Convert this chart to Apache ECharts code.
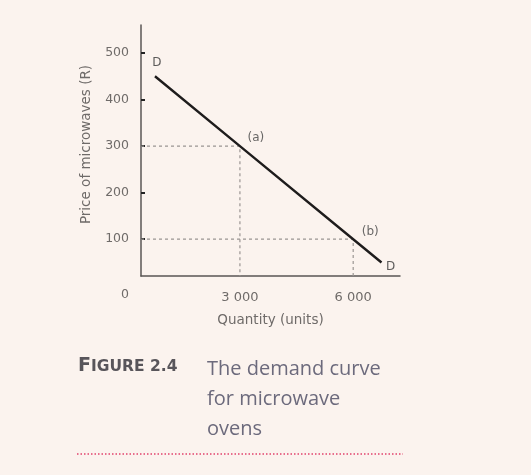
<!DOCTYPE html>
<html>
<head>
<meta charset="utf-8">
<script src="https://cdn.jsdelivr.net/npm/echarts@6/dist/echarts.min.js"></script>
<style>
html,body{margin:0;padding:0;background:#fbf3ee;}
#c{width:531px;height:475px;}
</style>
</head>
<body>
<div id="c"></div>
<script>
// Data
var demandQuantity = [750, 3000, 6000, 6750];
var demandPrice = [450, 300, 100, 50];
var pointQuantity = [3000, 6000];
var pointPrice = [300, 100];
var pointNames = ['(a)', '(b)'];
var xTickValues = [3000, 6000];
var xTickLabels = ['3 000', '6 000'];
var yTickValues = [100, 200, 300, 400, 500];
var xRange = [380, 7240];
var yRange = [21, 560];

var font = '"DejaVu Sans", sans-serif';
var capFont = '"Open Sans", "DejaVu Sans", sans-serif';
var chart = echarts.init(document.getElementById('c'), null, {renderer: 'canvas'});

var demandData = demandQuantity.map(function (q, i) { return [q, demandPrice[i]]; });

var guideSeries = pointQuantity.map(function (q, i) {
  return {
    type: 'line',
    data: [[xRange[0], pointPrice[i]], [q, pointPrice[i]], [q, yRange[0]]],
    symbol: 'none',
    silent: true,
    lineStyle: {color: '#9a9592', width: 1.2, type: [3, 3]},
    z: 1
  };
});

var labelOffsets = [[16, -8], [17, -7]];
var pointLabelData = pointQuantity.map(function (q, i) {
  return {
    value: [q, pointPrice[i]],
    name: pointNames[i],
    label: {offset: labelOffsets[i]}
  };
});

var endLabelData = [
  {value: demandData[0], name: 'D', label: {offset: [2, -13]}},
  {value: demandData[demandData.length - 1], name: 'D', label: {offset: [9, 4]}}
];

chart.setOption({
  backgroundColor: '#fbf3ee',
  animation: false,
  grid: {left: 141, right: 131, top: 25, bottom: 199},
  xAxis: {
    type: 'value',
    min: xRange[0], max: xRange[1],
    name: 'Quantity (units)',
    nameLocation: 'middle',
    nameGap: 37,
    nameTextStyle: {fontFamily: font, fontSize: 13.5, color: '#6f6b69'},
    axisLine: {lineStyle: {color: '#5a5654', width: 1.5}},
    axisTick: {show: false},
    splitLine: {show: false},
    axisLabel: {
      customValues: xTickValues,
      formatter: function (v) { return xTickLabels[xTickValues.indexOf(v)]; },
      fontFamily: font, fontSize: 13, color: '#6f6b69', margin: 15
    }
  },
  yAxis: {
    type: 'value',
    min: yRange[0], max: yRange[1],
    name: 'Price of microwaves (R)',
    nameLocation: 'middle',
    nameGap: 48,
    nameTextStyle: {fontFamily: font, fontSize: 13.5, color: '#6f6b69', padding: [0, 0, 0, 12]},
    axisLine: {show: true, lineStyle: {color: '#5a5654', width: 1.5}},
    axisTick: {show: true, inside: true, length: 4, customValues: yTickValues, lineStyle: {color: '#222', width: 2}},
    splitLine: {show: false},
    axisLabel: {
      customValues: yTickValues,
      fontFamily: font, fontSize: 12.5, color: '#6f6b69', margin: 12
    }
  },
  graphic: [
    {type: 'text', left: 121, top: 288, style: {text: '0', font: '12.5px ' + font, fill: '#6f6b69'}},
    {type: 'text', left: 78, top: 357, style: {
      text: '{b|F}{s|IGURE 2.4}',
      fill: '#58555a',
      rich: {
        b: {fontFamily: font, fontSize: 19, fontWeight: 'bold', fill: '#58555a'},
        s: {fontFamily: font, fontSize: 15.5, fontWeight: 'bold', fill: '#58555a'}
      }
    }},
    {type: 'text', left: 207, top: 354, style: {
      text: 'The demand curve\nfor microwave\novens',
      font: '20px ' + capFont, fill: '#6c6a7c', lineHeight: 30
    }},
    {type: 'line', shape: {x1: 77, y1: 454, x2: 403, y2: 454},
      style: {stroke: '#e2426c', lineWidth: 1.5, lineDash: [1.5, 2]}}
  ],
  series: guideSeries.concat([
    {
      type: 'line',
      data: demandData,
      symbol: 'none',
      lineStyle: {color: '#1e1c1c', width: 2.4},
      z: 3
    },
    {
      type: 'scatter',
      data: pointLabelData,
      symbolSize: 0,
      label: {show: true, formatter: '{b}', fontFamily: font, fontSize: 12, color: '#444'},
      z: 4
    },
    {
      type: 'scatter',
      data: endLabelData,
      symbolSize: 0,
      label: {show: true, formatter: '{b}', fontFamily: font, fontSize: 12, color: '#333'},
      z: 4
    }
  ])
});
</script>
</body>
</html>
